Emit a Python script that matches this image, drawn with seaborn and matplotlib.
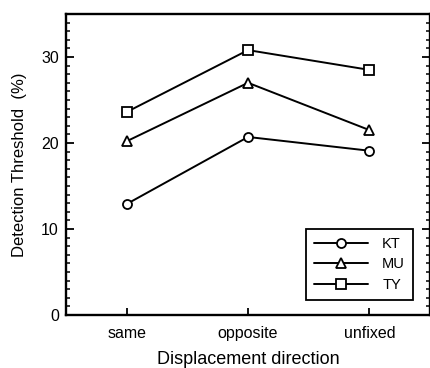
import pandas as pd
import seaborn as sns
import matplotlib.pyplot as plt
from matplotlib.ticker import MultipleLocator

# Datos
directions = ['same', 'opposite', 'unfixed']
kt = [12.9, 20.7, 19.1]
mu = [20.2, 27.0, 21.5]
ty = [23.6, 30.8, 28.5]

df = pd.DataFrame({
    'direction': directions * 3,
    'threshold': kt + mu + ty,
    'subject': ['KT'] * 3 + ['MU'] * 3 + ['TY'] * 3,
})
df['pos'] = df['direction'].map({d: i for i, d in enumerate(directions)})

sns.set_style('ticks')
plt.rcParams['font.family'] = ['Liberation Sans', 'DejaVu Sans']
plt.rcParams['text.color'] = 'black'
plt.rcParams['axes.labelcolor'] = 'black'
plt.rcParams['xtick.color'] = 'black'
plt.rcParams['ytick.color'] = 'black'

fig = plt.figure(figsize=(4.31, 3.68), dpi=100)
ax = fig.add_axes([0.153, 0.144, 0.845, 0.818])

sns.lineplot(data=df, x='pos', y='threshold', hue='subject', style='subject',
             palette=['black'] * 3, markers=['o', '^', 's'], dashes=False,
             linewidth=1.4, markersize=6.5, markerfacecolor='white',
             markeredgecolor='black', markeredgewidth=1.3, legend=False, ax=ax)

ax.set_xlim(-0.5, 2.5)
ax.set_ylim(0, 35)
ax.set_xticks(range(len(directions)))
ax.set_xticklabels(directions)
ax.yaxis.set_major_locator(MultipleLocator(10))
ax.yaxis.set_minor_locator(MultipleLocator(1))
ax.tick_params(axis='y', which='major', direction='in', length=6, width=1.3,
               left=True, right=True, labelsize=11.5, pad=5)
ax.tick_params(axis='y', which='minor', direction='in', length=3, width=1.1,
               left=True, right=True)
ax.tick_params(axis='x', direction='in', length=5, width=1.3, labelsize=11.5, pad=8)
for s in ax.spines.values():
    s.set_linewidth(1.7)
    s.set_color('black')

ax.set_xlabel('Displacement direction', fontsize=13, labelpad=7)
ax.set_ylabel('Detection Threshold  (%)', fontsize=12, labelpad=10)

lines = ax.get_lines()
leg = ax.legend(lines[:3], ['KT', 'MU', 'TY'], loc='lower right',
                bbox_to_anchor=(0.953, 0.05), borderaxespad=0, fancybox=False,
                framealpha=1, edgecolor='black', fontsize=10.5, handlelength=3.7,
                labelspacing=0.45, borderpad=0.55, handletextpad=1.0)
leg.get_frame().set_linewidth(1.3)

plt.savefig('out.png', dpi=100)
